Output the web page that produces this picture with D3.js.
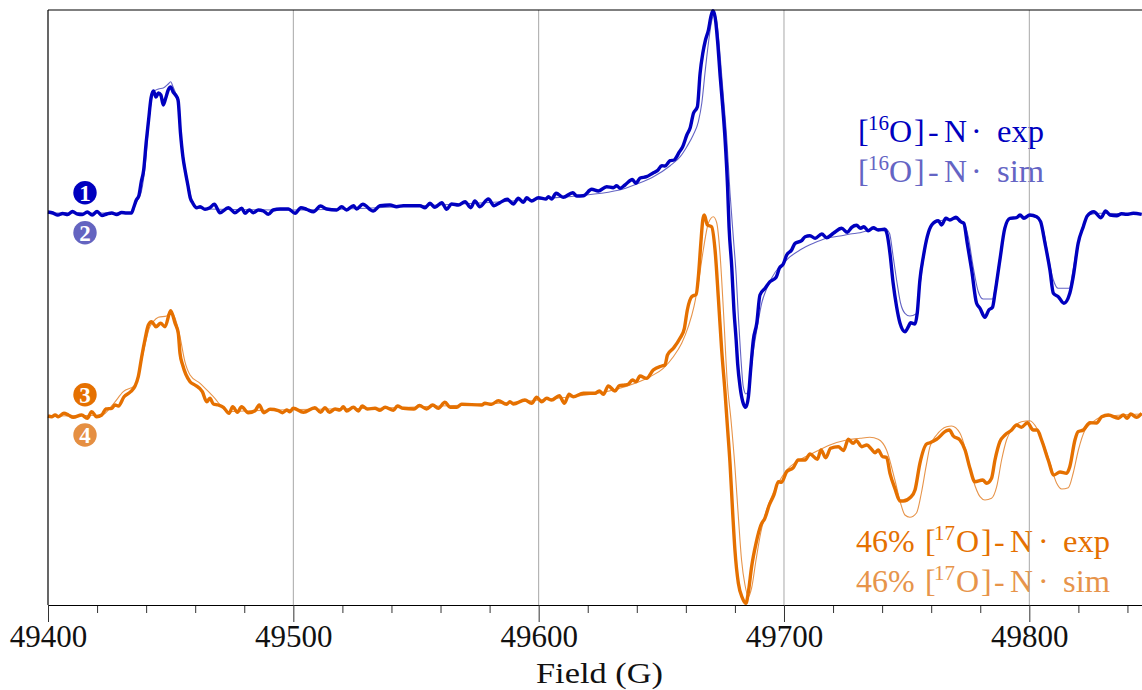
<!DOCTYPE html>
<html><head><meta charset="utf-8">
<script src="https://cdn.jsdelivr.net/npm/d3@7/dist/d3.min.js"></script>
<style>html,body{margin:0;padding:0;background:#fff}svg{display:block}text{font-family:"Liberation Serif",serif}</style>
</head><body><svg id="c" width="1142" height="690"></svg>
<script>
const fieldStart = 49400;
const majorTicks = [49400,49500,49600,49700,49800];
const minorTicks = [49420,49440,49460,49480,49520,49540,49560,49580,49620,49640,49660,49680,49720,49740,49760,49780,49820,49840];
// [field - 49400 (G), signal (arbitrary units)]
const exp16 = [[0,393],[2,392],[4,390],[6,391.5],[8,390.5],[10,393.5],[12,391],[14,390.5],[16,393],[18,390],[20,393.5],[22,389.5],[24,391],[26,392],[28,390.5],[30,392.5],[32,392],[34,392],[35,398],[36,405],[37,409],[38,423],[39,435],[40,462],[41,485],[42,507],[43,514],[44,508],[45,512],[46,510],[47,500],[48,507],[49,515],[50,518],[51,513],[52,510],[53,505],[54,472],[55,448],[56,433],[57,420],[58,407],[59,402],[60.6,397.3],[62,398.3],[64,395.7],[66,397.3],[67.8,400.7],[70.1,392.3],[73.5,397.3],[76.2,392.3],[79,396.7],[80.3,391.7],[82.1,395],[83.7,392.3],[85.7,395],[87.8,394],[89.8,390.7],[91.8,395],[94.6,396],[98,396],[100.7,391.7],[103.1,397.3],[105.4,395.7],[108.2,393.3],[111.1,399],[113.6,396],[117.7,395],[119.7,398.3],[121.7,395],[124.5,399.3],[125.8,396],[128.3,400.7],[132.6,394],[135.3,399.3],[139.4,400],[142.1,398.3],[144.8,399.3],[147.6,399.3],[151.6,399.3],[153.7,397.3],[155.7,401.7],[157.7,397.7],[160.5,402.3],[162.5,395.7],[164.5,401],[167.3,400],[170,403.3],[172.3,397.3],[174,404],[176,398.3],[179.5,406],[181.8,399.3],[184.2,402.3],[187.2,405.7],[189.7,401],[191.7,406.7],[193.8,402.7],[195.1,407.3],[197.1,404],[199.9,407.3],[203,406],[204,408.3],[205.3,406],[207.1,411.7],[210,407.7],[213.9,412.3],[215.5,409],[218.2,409.3],[221.6,415.7],[224.3,414],[227.7,418.3],[230.4,417.3],[231.8,419.3],[233.2,416.7],[235.2,420],[238.2,425.5],[239.6,421.7],[241.4,427],[244,428.3],[246.8,432.3],[248.4,434.3],[250.2,439.3],[251.5,439],[253.6,444.3],[255.2,445],[257.4,453.3],[258.7,458.3],[260.4,470],[261.7,476.7],[263.1,491.7],[264.7,498.3],[265.8,531.7],[266.9,551.7],[268,565],[269.2,575],[270.2,588.3],[271,594.3],[271.9,588.3],[273,561.7],[274,528.3],[274.8,505],[276,465],[277,418.3],[277.6,378.3],[278.7,338.3],[279.6,295],[280.5,265],[281.1,241.7],[282.1,218.3],[283.2,203.3],[284.4,197.7],[285.5,208.3],[286.4,235],[287.5,265],[288.9,281.7],[290.2,310],[292.3,316.7],[294.3,323.3],[296.8,327.7],[298.1,336.7],[299.7,341],[301.1,350],[303.1,355],[304.5,361.7],[307.2,364.3],[308.6,368.3],[310.6,369.3],[312.7,366.7],[315.4,371],[317.4,367.3],[320.1,371.7],[323.5,376.7],[325.8,372.7],[327.6,377.7],[329.6,379.7],[331.2,376.7],[332.6,378.3],[334.3,374.3],[336.4,377.3],[338.4,375],[341.1,375.7],[342.1,370],[343.2,351.7],[344.5,321.7],[345.9,298.3],[347.3,281.7],[349.3,273.3],[350.7,278.3],[351.6,282.3],[353.4,281],[354.3,291.7],[355.4,325],[356.8,348.3],[358.4,368.3],[360.2,380],[362.9,384.3],[364.2,380],[366,386.7],[367.6,385],[370.1,387.7],[372,383.3],[373.3,381.7],[374.7,361.7],[376.5,335],[378.5,301.7],[379.9,296.7],[381.9,287.7],[383.5,295],[385,297.7],[386,311.7],[388,345],[390,376.7],[392.1,386.7],[394.8,387.3],[396.2,390],[397.8,386.7],[400.2,390],[403,388.3],[404.6,383.3],[406.4,361.7],[408.4,335],[409.8,311.7],[411.8,308.3],[414.1,301.7],[416.5,311.7],[417.9,328.3],[419.9,361.7],[422,378.3],[423.6,389],[426.3,393.3],[429.2,387.3],[431.1,394],[432.9,390],[435.6,389.3],[437.6,391.3],[439.6,390.7],[442.4,391.7],[445.8,390.7]];
const sim16 = [[0,392],[34,392],[36,403],[37,407],[38,413],[39,427],[40,450],[41,480],[42,502],[43,513],[45,516],[47,517],[49,521],[50,523.3],[51,518],[52,512],[53,505],[54,472],[55,452],[57,423],[59,402],[61,397],[65,396],[100,395],[150,399],[200,406],[233,415],[240,421],[246.8,428.3],[253.6,439.3],[257.7,448.3],[260.4,458.3],[263,470],[265.1,483.3],[266.5,502],[267.8,532],[269.2,562],[270.6,585],[271.5,590],[272.6,583.3],[274,548.3],[275.3,508.3],[276.7,465],[278,412],[279.4,366],[280.5,330],[281.4,288.3],[282.4,248.3],[283.4,218.3],[284.5,211],[285.8,218.3],[287.2,248.3],[288.9,275],[290.9,301.7],[293,316.7],[295,327],[297.7,337],[299.7,341.7],[302.5,348.3],[306.5,355],[312,361.7],[317.4,366.7],[322.8,369],[327,371],[331,372.3],[336.4,375.7],[341,376.7],[343,371.7],[344.5,348.3],[345.9,325],[347.5,302],[349.3,291.7],[351.3,289],[353.8,291],[355.4,318.3],[356.8,345],[358.8,370],[360.8,381],[363.6,384.3],[369,385.7],[373,383.3],[375.1,368.3],[377.1,338.3],[379.2,313.3],[381.2,306],[385,306],[386.4,322],[388,348.3],[390,377],[392,385.7],[400.2,389],[404.3,385],[406,372],[407.7,348.3],[409.8,325],[411.8,316.7],[416.3,316.7],[417.6,332],[419.5,358.3],[421.3,375],[424,390],[428.8,391.7],[445.8,391]];
const exp17 = [[0,189],[1.5,188.3],[2.9,190],[4.2,188.3],[6.5,191.7],[8.3,190],[10.3,187.7],[13.7,190],[16,186.7],[17.8,193.3],[19.8,188.3],[21.9,190],[23.6,196],[26,196.7],[27.3,200],[28.7,199],[31,208.3],[33.7,213.3],[35.5,219],[36.8,228.3],[38.2,248.3],[39.5,265],[40.9,280],[42.2,283.3],[44,278.3],[45.9,281.7],[47.7,278.3],[50,294.3],[51.8,281.7],[53.1,271.7],[53.8,251.7],[54.9,240],[57.9,223.3],[59.9,220],[62.9,213.3],[64.7,203.3],[66,206.7],[67.4,201],[69.4,200],[71.5,197.7],[73.8,191.7],[75.3,198.3],[77.2,192.7],[78.9,198.3],[81.6,192.3],[84.4,194.3],[86.1,200],[88,192.3],[90.5,195.7],[93.9,194.3],[95.6,192.3],[97.3,195],[98.6,193.3],[100,196.7],[104.1,192.7],[108.8,197.3],[111.1,192.7],[112.9,197.3],[114.7,192.7],[117,196],[119,195],[120.4,198.3],[121.7,194],[124.5,197.7],[126.5,194],[128.1,199],[130.2,196],[133.3,196.7],[135.3,194.7],[137.4,197.7],[140.8,194.7],[142.4,199],[144.8,196.7],[149.2,196],[151.4,199.5],[154.3,196],[156.8,200],[159.1,196.7],[161.8,202.7],[163.9,197.7],[166.6,197.7],[168.6,200.7],[176.8,200],[178.1,201.7],[180.8,200.7],[183.6,204.3],[186.9,200.7],[188.3,203.3],[189.7,201],[194.4,205],[197.1,201.7],[199.2,207.7],[201.2,203.3],[203.3,206.7],[205.3,205],[208.4,209.3],[210.5,201.7],[212.4,210.7],[214.1,208.3],[218.2,211.7],[223,211.7],[224.7,214],[226.4,210.7],[228.4,219],[231.1,214],[232.9,219.3],[235.2,220],[236.5,220.7],[238.2,225],[239.7,223.3],[241.3,229],[244,226.7],[246.7,235],[250.2,239],[251.5,240],[252.5,250],[254.9,256.7],[257.6,266.7],[259.4,276.7],[260.6,295],[262.4,308.3],[264.2,310.7],[265.1,328.3],[266.1,361.7],[266.9,385],[267.5,390],[268.8,380],[270.5,378.3],[271.9,355],[273.3,305],[274.6,255],[276,211.7],[276.9,180],[278,141.7],[279.1,91.7],[280,55],[281.4,21.7],[283.1,6.7],[284.5,1.7],[285.5,13.3],[286.8,38.3],[288.6,61.7],[290.6,80],[292.2,86.7],[294,100],[295.9,110],[297.7,123.3],[299,122.7],[301.1,133.3],[303.8,137.3],[305.8,145],[308.6,145],[310.6,151],[313.6,145.7],[315.1,155],[317,147.3],[319,156.7],[322.1,158.3],[324.3,154.5],[326.2,165.7],[328.2,161.7],[329.5,164.3],[331.7,158.3],[333.8,160],[335.7,155.7],[337.1,152.3],[338.4,155],[340.2,148.3],[341.8,147.7],[343.2,131.7],[345.2,116.7],[347.3,104],[348.6,104],[351.6,107.7],[353.4,115],[355.4,141.7],[358.1,161],[359.5,162.3],[362.2,165.7],[366.3,174.3],[367.4,175],[369,169],[371.7,165],[373.8,155],[375.8,136.7],[377.8,123.3],[381,125],[382.6,121.7],[384.6,126.7],[386,145],[388,163.3],[390.1,170],[392.8,175],[394.8,180],[396.8,177.7],[399.2,182.3],[401.6,175],[403.2,175],[405,165],[407.7,145],[410,130],[412.5,133],[415.2,131.7],[416.5,138.3],[418.6,165],[419.9,173.3],[422,175],[424.7,182.3],[427.4,182],[429.5,188.3],[432.2,190],[436.3,186.7],[438.3,190],[439.9,186.7],[441.3,191],[443.7,187.7],[445.8,191.7]];
const sim17 = [[0,189],[22,190],[26.6,201],[30.7,213.3],[35.5,220],[37.5,237],[39.5,260],[41.3,277],[42.9,283.3],[45,287.7],[48.4,289],[50,293.3],[51.8,286.7],[53.8,268.3],[55.8,243.3],[57.9,230],[62,221.7],[67.4,208.3],[73.5,193.3],[80,194],[150,198],[200,205],[232,216],[245.4,228.3],[250.8,236.7],[254.9,248.3],[258.3,261.7],[261,278.3],[263.3,298.3],[265.1,322],[267.1,355],[269.2,382],[271.2,388.3],[272.6,382],[273.9,352],[275.3,295],[276.9,222],[278.4,185],[280,138.3],[281.4,88.3],[282.7,45],[284.1,20],[285.5,8.3],[286.8,17],[288.6,45],[290.5,72],[292.9,95],[295.6,112],[298.4,125],[301.1,135],[305.2,143.3],[311.9,152],[318.7,160],[325.5,165],[331,166.7],[335,167.7],[338.4,165.7],[341.8,155],[345.2,125],[347.5,102],[349.3,90],[351.3,87.7],[354,92],[356,112],[357.9,138.3],[359.5,158.3],[362.2,170],[366.3,178.3],[368.3,179],[371.7,172],[374.4,152],[377.1,125],[379.9,108.3],[381.9,105],[384.6,106.7],[386.7,118.3],[388.7,145],[390.7,165],[393.4,177],[396.8,183.3],[400.2,184.3],[403,177],[405.7,162],[408.4,142],[411.1,122],[413.2,116],[415.9,117.3],[417.9,132],[420,155],[422.7,175],[425.4,182],[429.5,188],[445.8,191]];

const xLabel = "Field (G)";
const blue = "#0000bf", blueSim = "#6464c4", orange = "#e57000", orangeSim = "#e7944a";

const svg = d3.select("#c");
const L = 48, R = 1142, T = 10, B = 605;
const x = d3.scaleLinear().domain([fieldStart, fieldStart + (R - L) / 2.4533]).range([L, R]);
const y = d3.scaleLinear().domain([0, B - T]).range([B, T]);

// legends (below the grid lines)
function legend(sel, xs, baseline, color, prefix, iso, tail) {
  const t = sel.append("text").attr("y", baseline).attr("fill", color).attr("font-size", 32);
  if (prefix) t.append("tspan").attr("x", xs.prefix).text(prefix);
  t.append("tspan").attr("x", xs.open).text("[");
  t.append("tspan").attr("x", xs.iso).attr("y", baseline - 12).attr("font-size", 21).text(iso);
  t.append("tspan").attr("x", xs.o).attr("y", baseline).text("O");
  t.append("tspan").attr("x", xs.close).text("]");
  t.append("tspan").attr("x", xs.dash).text("-");
  t.append("tspan").attr("x", xs.n).attr("textLength", 23).attr("lengthAdjust", "spacingAndGlyphs").text("N");
  t.append("tspan").attr("x", xs.dot).text("·");
  t.append("tspan").attr("x", xs.tail).attr("textLength", 47).attr("lengthAdjust", "spacingAndGlyphs").text(tail);
}
const leg = svg.append("g");
const xsA = {open: 858, iso: 868, o: 889, close: 914, dash: 928, n: 944, dot: 971, tail: 997};
legend(leg, xsA, 141.5, blue, null, "16", "exp");
legend(leg, xsA, 181.5, blueSim, null, "16", "sim");
const xsB = {prefix: 856, open: 925, iso: 934, o: 956, close: 981, dash: 994, n: 1010, dot: 1038, tail: 1063};
legend(leg, xsB, 551.5, orange, "46%", "17", "exp");
legend(leg, xsB, 591.5, orangeSim, "46%", "17", "sim");

// grid
svg.append("g").selectAll("line").data(majorTicks.slice(1)).join("line")
  .attr("x1", d => x(d)).attr("x2", d => x(d)).attr("y1", T).attr("y2", B)
  .attr("stroke", "#a8a8a8").attr("stroke-width", 1);

// curves
const line = d3.line().x(d => x(fieldStart + d[0])).y(d => y(d[1])).curve(d3.curveMonotoneX);
const series = [[sim16, blueSim, 1.1], [sim17, orangeSim, 1.1], [exp16, blue, 3.4], [exp17, orange, 3.4]];
svg.append("g").selectAll("path").data(series).join("path")
  .attr("d", d => line(d[0])).attr("fill", "none")
  .attr("stroke", d => d[1]).attr("stroke-width", d => d[2]).attr("stroke-linejoin", "round");

// frame and axes
svg.append("line").attr("x1", L).attr("x2", L).attr("y1", T).attr("y2", B).attr("stroke", "#000").attr("stroke-width", 1.2);
svg.append("line").attr("x1", L).attr("x2", R).attr("y1", T).attr("y2", T).attr("stroke", "#000").attr("stroke-width", 1.2);
const axMinor = svg.append("g").attr("transform", `translate(0,${B})`)
  .call(d3.axisBottom(x).tickValues(minorTicks).tickSize(8).tickFormat(""));
const axMajor = svg.append("g").attr("transform", `translate(0,${B})`)
  .call(d3.axisBottom(x).tickValues(majorTicks).tickSize(17).tickSizeOuter(0).tickPadding(2.7).tickFormat(d3.format("d")));
axMinor.select(".domain").remove();
axMajor.select(".domain").attr("stroke", "#000").attr("stroke-width", 1.2);
axMinor.selectAll("line").attr("stroke", "#333");
axMajor.selectAll("line").attr("stroke", "#333");
axMajor.selectAll("text").attr("font-size", 31).attr("font-family", '"Liberation Serif",serif').attr("fill", "#111");
svg.append("text").attr("x", 599.5).attr("y", 682.5).attr("text-anchor", "middle").attr("font-size", 29)
  .attr("textLength", 127).attr("lengthAdjust", "spacingAndGlyphs").attr("fill", "#111").text(xLabel);

// numbered badges
const badges = [["1", 192.7, blue], ["2", 232.7, "#6464c0"], ["3", 394.7, orange], ["4", 435, "#e58f42"]];
const b = svg.append("g").selectAll("g").data(badges).join("g").attr("transform", d => `translate(85,${d[1]})`);
b.append("circle").attr("r", 11.7).attr("fill", d => d[2]);
b.append("text").attr("text-anchor", "middle").attr("y", 8).attr("font-size", 23).attr("font-weight", "bold").attr("fill", "#fff").text(d => d[0]);
</script></body></html>
